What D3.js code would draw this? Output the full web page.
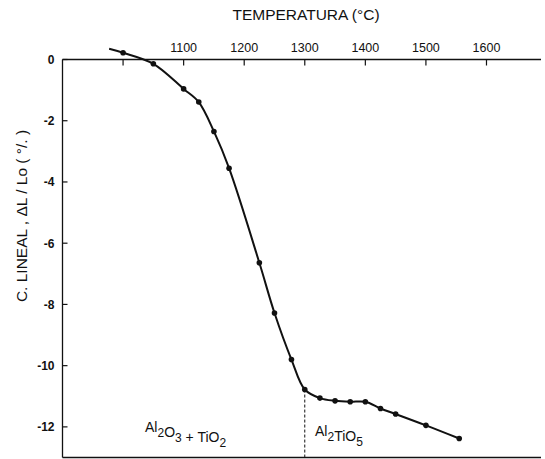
<!DOCTYPE html>
<html>
<head>
<meta charset="utf-8">
<script src="https://cdn.jsdelivr.net/npm/d3@7"></script>
<style>
  body { margin: 0; background: #fff; }
  svg { display: block; }
  text { font-family: "Liberation Sans", Arial, sans-serif; fill: #111; }
</style>
</head>
<body>
<div id="chart"></div>
<script>
// measured points (temperature in C, linear change in %)
const temps = [1000, 1050, 1100, 1125, 1150, 1175, 1225, 1250, 1278, 1300, 1325, 1350, 1375, 1400, 1425, 1450, 1500, 1555];
const vals = [0.22, -0.14, -0.96, -1.39, -2.35, -3.55, -6.64, -8.28, -9.8, -10.78, -11.06, -11.15, -11.18, -11.18, -11.4, -11.58, -11.95, -12.38];
// the drawn curve starts a bit before the first point
const curveStart = [977, 0.35];
const xTicks = [1000, 1100, 1200, 1300, 1400, 1500, 1600];
const xLabels = ["", "1100", "1200", "1300", "1400", "1500", "1600"];
const yTicks = [0, -2, -4, -6, -8, -10, -12];
const phaseTemp = 1300;

const width = 545, height = 459;

const svg = d3.select("#chart").append("svg")
    .attr("width", width)
    .attr("height", height);

const x = d3.scaleLinear().domain([900, 1690]).range([62.5, 541]);
const y = d3.scaleLinear().domain([-13, 0]).range([457.5, 59.5]);

// frame: top, left and bottom lines
svg.append("line")
    .attr("x1", x(900)).attr("x2", x(1690))
    .attr("y1", y(0)).attr("y2", y(0))
    .attr("stroke", "#111").attr("stroke-width", 1.3);
svg.append("line")
    .attr("x1", x(900)).attr("x2", x(1690))
    .attr("y1", y(-13)).attr("y2", y(-13))
    .attr("stroke", "#111").attr("stroke-width", 1.3);
svg.append("line")
    .attr("x1", x(900)).attr("x2", x(900))
    .attr("y1", y(0)).attr("y2", y(-13))
    .attr("stroke", "#111").attr("stroke-width", 1.3);

// top axis ticks point inward
const topAxis = svg.append("g").attr("transform", "translate(0," + y(0) + ")");
topAxis.selectAll("line")
    .data(xTicks)
    .enter().append("line")
    .attr("x1", d => x(d)).attr("x2", d => x(d))
    .attr("y1", 0).attr("y2", 6)
    .attr("stroke", "#111").attr("stroke-width", 1.2);
topAxis.selectAll("text")
    .data(xTicks)
    .enter().append("text")
    .attr("x", d => x(d))
    .attr("y", -8)
    .attr("text-anchor", "middle")
    .style("font-size", "12.5px")
    .text((d, i) => xLabels[i]);

// left axis ticks
const leftAxis = svg.append("g").attr("transform", "translate(" + x(900) + ",0)");
leftAxis.selectAll("line")
    .data(yTicks)
    .enter().append("line")
    .attr("x1", 0).attr("x2", 5)
    .attr("y1", d => y(d)).attr("y2", d => y(d))
    .attr("stroke", "#111").attr("stroke-width", 1.2);
leftAxis.selectAll("text")
    .data(yTicks)
    .enter().append("text")
    .attr("x", -8)
    .attr("y", d => y(d))
    .attr("dy", "0.36em")
    .attr("text-anchor", "end")
    .style("font-size", "12px")
    .style("font-weight", "bold")
    .text(d => d === 0 ? "0" : "-" + Math.abs(d));

// titles
svg.append("text")
    .attr("x", 306)
    .attr("y", 20)
    .attr("text-anchor", "middle")
    .style("font-size", "15.5px")
    .text("TEMPERATURA (°C)");

svg.append("text")
    .attr("transform", "translate(27,216) rotate(-90)")
    .attr("text-anchor", "middle")
    .style("font-size", "15.5px")
    .text("C. LINEAL , ΔL / Lo ( °/. )");

// phase boundary
const iPhase = temps.indexOf(phaseTemp);
svg.append("line")
    .attr("x1", x(phaseTemp)).attr("x2", x(phaseTemp))
    .attr("y1", y(vals[iPhase])).attr("y2", y(-13))
    .attr("stroke", "#111").attr("stroke-width", 1)
    .attr("stroke-dasharray", "3,2");

// curve and points
const curveData = [curveStart].concat(temps.map((t, i) => [t, vals[i]]));
const line = d3.line()
    .x(d => x(d[0]))
    .y(d => y(d[1]))
    .curve(d3.curveCatmullRom.alpha(0.5));

svg.append("path")
    .datum(curveData)
    .attr("d", line)
    .attr("fill", "none")
    .attr("stroke", "#111")
    .attr("stroke-width", 2);

svg.selectAll("circle.pt")
    .data(temps)
    .enter().append("circle")
    .attr("class", "pt")
    .attr("cx", d => x(d))
    .attr("cy", (d, i) => y(vals[i]))
    .attr("r", 2.8)
    .attr("fill", "#111");

// phase labels with subscripts
function chem(xp, yp, parts) {
  const t = svg.append("text")
      .attr("x", xp).attr("y", yp)
      .style("font-size", "14px");
  parts.forEach(p => {
    if (p.sub) {
      t.append("tspan").attr("dy", 5).style("font-size", "12px").text(p.s);
      t.append("tspan").attr("dy", -5).text("");
    } else {
      t.append("tspan").text(p.s);
    }
  });
}
chem(145, 432, [{s: "Al"}, {s: "2", sub: true}, {s: "O"}, {s: "3", sub: true}, {s: " + TiO"}, {s: "2", sub: true}]);
chem(315, 436, [{s: "Al"}, {s: "2", sub: true}, {s: "TiO"}, {s: "5", sub: true}]);
</script>
</body>
</html>
